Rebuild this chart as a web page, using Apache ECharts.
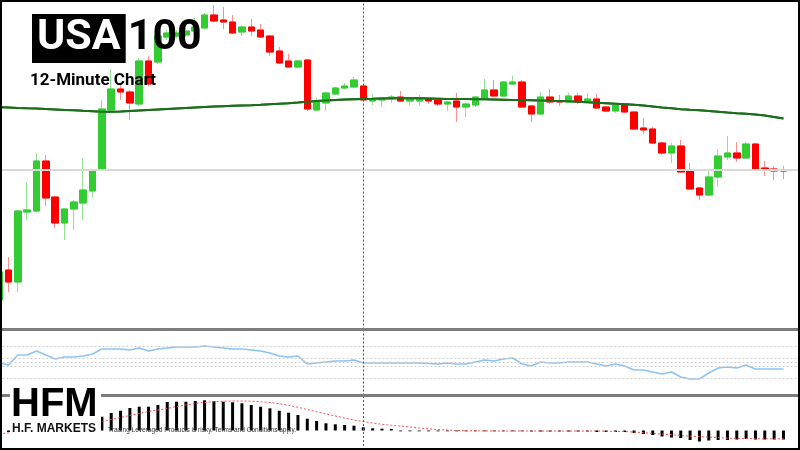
<!DOCTYPE html>
<html><head><meta charset="utf-8">
<script src="https://cdn.jsdelivr.net/npm/echarts@6/dist/echarts.min.js"></script>
<style>html,body{margin:0;padding:0;background:#fff}#c{width:800px;height:450px}</style>
</head><body><div id="c"></div>
<script>
const categories = [
 '00:00','00:12','00:24','00:36','00:48','01:00','01:12','01:24','01:36','01:48',
 '02:00','02:12','02:24','02:36','02:48','03:00','03:12','03:24','03:36','03:48',
 '04:00','04:12','04:24','04:36','04:48','05:00','05:12','05:24','05:36','05:48',
 '06:00','06:12','06:24','06:36','06:48','07:00','07:12','07:24','07:36','07:48',
 '08:00','08:12','08:24','08:36','08:48','09:00','09:12','09:24','09:36','09:48',
 '10:00','10:12','10:24','10:36','10:48','11:00','11:12','11:24','11:36','11:48',
 '12:00','12:12','12:24','12:36','12:48','13:00','13:12','13:24','13:36','13:48',
 '14:00','14:12','14:24','14:36','14:48','15:00','15:12','15:24','15:36','15:48',
 '16:00','16:12','16:24','16:36','16:48','17:00','17:12'
];
const openP = [
 18100,
 18130,18118,18188,18189,18239,18203,18177,18191,18197,18209,
 18230,18290,18311,18308,18296,18339,18338,18363,18364,18365,
 18369,18372,18385,18380,18378,18368,18373,18370,18364,18349,
 18339,18333,18340,18290,18297,18306,18312,18313,18314,18299,
 18300,18301,18303,18299,18299,18301,18300,18296,18299,18293,
 18295,18302,18310,18304,18316,18318,18294,18286,18303,18299,
 18298,18304,18299,18301,18293,18289,18295,18288,18272,18271,
 18257,18247,18254,18229,18212,18205,18223,18243,18247,18242,
 18256,18232,18231,18230
];
const closeP = [
 18128,
 18118,18189,18190,18239,18202,18177,18191,18198,18210,18230,
 18291,18311,18308,18297,18339,18316,18364,18367,18367,18369,
 18373,18385,18379,18378,18367,18373,18369,18363,18348,18337,
 18333,18339,18291,18299,18307,18312,18314,18320,18300,18301,
 18302,18303,18299,18301,18301,18299,18296,18298,18293,18296,
 18303,18310,18304,18318,18318,18293,18286,18303,18298,18298,
 18304,18298,18301,18292,18289,18295,18288,18271,18270,18257,
 18247,18254,18228,18211,18205,18223,18244,18247,18242,18256,
 18231,18230,18229,18229
];
const lowP = [
 18095,
 18108,18108,18180,18188,18194,18172,18160,18170,18180,18203,
 18230,18287,18300,18280,18294,18314,18336,18360,18362,18363,
 18367,18371,18378,18371,18366,18364,18364,18362,18344,18336,
 18332,18332,18289,18289,18289,18305,18311,18312,18299,18295,
 18293,18297,18298,18295,18294,18296,18294,18289,18278,18283,
 18293,18301,18303,18303,18315,18292,18278,18285,18296,18294,
 18297,18296,18298,18291,18288,18287,18287,18270,18266,18256,
 18245,18237,18227,18210,18200,18204,18213,18240,18238,18241,
 18230,18224,18220,18221
];
const highP = [
 18130,
 18143,18190,18218,18247,18245,18204,18192,18200,18242,18231,
 18300,18331,18315,18310,18342,18344,18367,18370,18370,18372,
 18382,18387,18395,18393,18385,18375,18381,18376,18365,18353,
 18346,18340,18341,18302,18308,18313,18317,18323,18315,18306,
 18303,18305,18309,18303,18305,18302,18301,18299,18307,18298,
 18304,18321,18320,18319,18324,18320,18295,18308,18311,18305,
 18307,18307,18307,18306,18294,18296,18297,18289,18282,18273,
 18258,18257,18260,18237,18213,18231,18251,18264,18258,18258,
 18257,18239,18234,18234
];
const maLine = [
 18292.7,
 18292.5,18292,18291.7,18291.5,18291,18290.5,18290,18289.8,18289.2,18288.8,
 18288.3,18288.3,18288.5,18289,18289.5,18290,18290.5,18291,18291.5,18292,
 18292.5,18293,18293.4,18293.8,18294.2,18294.5,18294.8,18295.2,18295.7,18296.2,
 18296.7,18297.4,18298.3,18299,18299.5,18300,18300.4,18300.8,18301,18301.2,
 18301.5,18301.7,18301.7,18301.7,18301.7,18301.5,18301.3,18301.1,18301,18300.9,
 18300.8,18300.7,18300.5,18300.3,18300.1,18299.9,18299.7,18299.5,18299.2,18299,
 18298.7,18298.3,18297.8,18297.3,18296.8,18296.3,18295.8,18295.2,18294.5,18293.5,
 18292.5,18291.7,18290.8,18290.2,18289.7,18289,18288.3,18287.5,18286.8,18286.3,
 18285.5,18284.5,18283,18281.5
];
const rsiLine = [
 48.75,
 46.25,58.75,58.75,63.75,58.75,53.75,56.25,56.25,57.5,60,
 66.25,66.25,66.25,65,67.5,63.75,66.25,67.5,68.75,68.75,
 68.75,70,68.75,67.5,66.25,66.25,65,63.75,61.25,57.5,
 56.25,57.5,47.5,48.75,50,51.25,51.25,52.5,48.75,48.75,
 48.75,48.75,48.75,48.75,48.75,48,47.5,48.75,47.5,47.5,
 50,52.5,51.25,53.75,55,47.5,45,50,48.75,48.75,
 50,50,50,47.5,45,47.5,45,40,40,37.5,
 35,37.5,31.25,28.75,28.75,36.25,42.5,43.75,42.5,46.25,
 41.25,41.25,41.25,41.25
];
const macdHist = [
 -1.5,
 -1.5,1,2.5,4,4.5,4.5,5,6,7.5,10,
 13.8,17.5,19.8,22.5,23.8,23.8,25.5,28.5,28.8,28.8,
 29.5,30.2,29.5,28.8,28.2,27.2,25.5,23.8,22.2,19.8,
 17.8,15.5,11.8,9.5,7.2,6.2,5.5,4.8,3.2,2.2,
 1.8,1.5,-0.8,-0.8,-0.8,-0.8,-0.8,-0.8,-0.8,-0.8,
 -0.8,-0.8,-0.8,-0.8,-0.8,-0.8,-1,-1,-1,-1,
 -1,-1,-1,-1.5,-1.5,-1.5,-1.5,-2.5,-3.5,-4.5,
 -6,-7,-7.5,-9.5,-11,-10,-9.5,-9.5,-9,-8.5,
 -9,-9,-9,-9
];
const macdSignal = [
 -3,
 -2.5,-1.5,-0.5,0.5,1.5,2.5,3.5,4.5,6,7.5,
 9,11,13,15,17,19,20.5,22,24,25.5,
 27,28,28.8,29.3,29.5,29.5,29.3,28.8,28,26.8,
 25.2,23.2,21,18.8,16.5,14.5,12.5,10.5,9,7.5,
 6.2,5.2,4.5,3.5,2.5,1.7,1,0.5,0,-0.2,
 -0.3,-0.4,-0.5,-0.5,-0.5,-0.5,-0.5,-0.5,-0.5,-0.5,
 -0.5,-0.5,-0.5,-0.5,-0.7,-0.9,-1.1,-1.6,-2.2,-2.9,
 -3.6,-4.3,-5,-5.6,-6.2,-6.7,-7.1,-7.6,-7.9,-8.1,
 -8.2,-8.3,-8.3,-8.3
];
const rsiLevels = [30, 45, 50, 55, 70];
const refPrice = 18230;
const markerCategory = categories[39];

const wickData = openP.map((o, i) => [o, closeP[i], lowP[i], highP[i]]);
const bodyData = openP.map((o, i) => [o, closeP[i], Math.min(o, closeP[i]), Math.max(o, closeP[i])]);

const chart = echarts.init(document.getElementById('c'));
const gridBase = { left: -5.5, width: 812.3, outerBoundsMode: 'none', containLabel: false };
const hiddenX = (gi) => ({ type: 'category', data: categories, gridIndex: gi, boundaryGap: true, show: false });
const vMark = {
  silent: true, symbol: 'none', animation: false,
  label: { show: false },
  lineStyle: { type: [2, 2], color: '#555', width: 1 },
  data: [{ xAxis: markerCategory }]
};
chart.setOption({
  animation: false,
  backgroundColor: '#fff',
  title: [
    { left: 32, top: 17, padding: 0,
      text: '{a|USA}{b|100}',
      textStyle: { rich: {
        a: { backgroundColor: '#000', color: '#fff', fontSize: 43, fontWeight: 'bold', fontFamily: 'Roboto', lineHeight: 43, padding: [3, 5, 3, 5] },
        b: { color: '#000', fontSize: 43, fontWeight: 'bold', fontFamily: 'Roboto', lineHeight: 43, padding: [3, 0, 3, 2] }
      } } },
    { left: 30, top: 72, padding: 0, text: '12-Minute Chart',
      textStyle: { fontSize: 17, fontWeight: 'bold', fontFamily: 'Roboto', color: '#000' } }
  ],
  grid: [
    Object.assign({ top: 0, height: 329.5 }, gridBase),
    Object.assign({ top: 331, height: 64.5 }, gridBase),
    Object.assign({ top: 397, height: 53 }, gridBase)
  ],
  xAxis: [hiddenX(0), hiddenX(1), hiddenX(2)],
  yAxis: [
    { gridIndex: 0, min: 18070.5, max: 18400, show: false, splitLine: { show: false } },
    { gridIndex: 1, min: 8.125, max: 88.75, show: false, splitLine: { show: false } },
    { gridIndex: 2, min: -19.5, max: 33.5, show: false, splitLine: { show: false } }
  ],
  series: [
    { type: 'line', xAxisIndex: 0, yAxisIndex: 0, data: maLine, symbol: 'none', silent: true,
      lineStyle: { color: '#1b6e1b', width: 2 }, z: 1,
      markLine: { silent: true, symbol: 'none', label: { show: false },
        lineStyle: { type: 'solid', color: '#d9d9d9', width: 2 },
        data: [{ yAxis: refPrice }] } },
    { type: 'candlestick', xAxisIndex: 0, yAxisIndex: 0, data: wickData, barWidth: 7, z: 2,
      itemStyle: { color: '#92e092', color0: '#ff8f8f', borderColor: '#92e092', borderColor0: '#ff8f8f', borderColorDoji: '#ff8f8f', borderWidth: 1 } },
    { type: 'candlestick', xAxisIndex: 0, yAxisIndex: 0, data: bodyData, barWidth: 7, z: 3,
      itemStyle: { color: '#33cc33', color0: '#ff0000', borderColor: '#33cc33', borderColor0: '#ff0000', borderColorDoji: '#ff0000', borderWidth: 1 } },
    { type: 'line', xAxisIndex: 0, yAxisIndex: 0, data: maLine, symbol: 'none', silent: true,
      lineStyle: { color: '#1b6e1b', width: 2 }, z: 4, markLine: vMark },
    { type: 'line', xAxisIndex: 1, yAxisIndex: 1, data: rsiLine, symbol: 'none', silent: true,
      lineStyle: { color: '#8cc3f5', width: 1.5 }, z: 3,
      markLine: { silent: true, symbol: 'none', label: { show: false },
        lineStyle: { type: [2, 2], color: '#cfcfcf', width: 1 },
        data: rsiLevels.map(v => ({ yAxis: v })).concat([{ xAxis: markerCategory, lineStyle: { color: '#555' } }]) } },
    { type: 'bar', xAxisIndex: 2, yAxisIndex: 2, data: macdHist, barWidth: 3, silent: true,
      itemStyle: { color: '#000' }, z: 2, markLine: vMark },
    { type: 'line', xAxisIndex: 2, yAxisIndex: 2, data: macdSignal, symbol: 'none', silent: true,
      lineStyle: { color: '#ff5050', width: 1, type: [2, 2] }, z: 3 }
  ],
  graphic: [
    { type: 'line', z: 50, shape: { x1: 0, y1: 329.5, x2: 800, y2: 329.5 }, style: { stroke: '#7c7c7c', lineWidth: 3 } },
    { type: 'line', z: 50, shape: { x1: 0, y1: 395.5, x2: 800, y2: 395.5 }, style: { stroke: '#7c7c7c', lineWidth: 3 } },
    { type: 'rect', z: 60, shape: { x: 10, y: 386, width: 91, height: 49 }, style: { fill: '#fff' } },
    { type: 'text', z: 61, x: 11, y: 385,
      style: { text: '{h|HF}{m|M}', rich: {
        h: { fontSize: 40, fontWeight: 'bold', fontFamily: 'Liberation Sans', fill: '#000' },
        m: { fontSize: 40, fontWeight: 'bold', fontFamily: 'Liberation Sans',
             fill: new echarts.graphic.LinearGradient(0, 0, 1, 0, [
               { offset: 0, color: '#000' }, { offset: 0.45, color: '#000' },
               { offset: 0.45, color: '#d8161e' }, { offset: 1, color: '#d8161e' }]) }
      } } },
    { type: 'text', z: 61, x: 12, y: 423,
      style: { text: 'H.F. MARKETS', fontSize: 12, fontWeight: 'bold', fontFamily: 'Liberation Sans', fill: '#111' } },
    { type: 'text', z: 61, x: 108, y: 427,
      style: { text: 'Trading Leveraged Products is risky. Terms and Conditions apply.', fontSize: 6.5, fontFamily: 'Liberation Sans', fill: '#333' } },
    { type: 'rect', z: 100, shape: { x: 1, y: 1, width: 798, height: 448 }, style: { fill: 'none', stroke: '#000', lineWidth: 2 } }
  ]
});
</script></body></html>
